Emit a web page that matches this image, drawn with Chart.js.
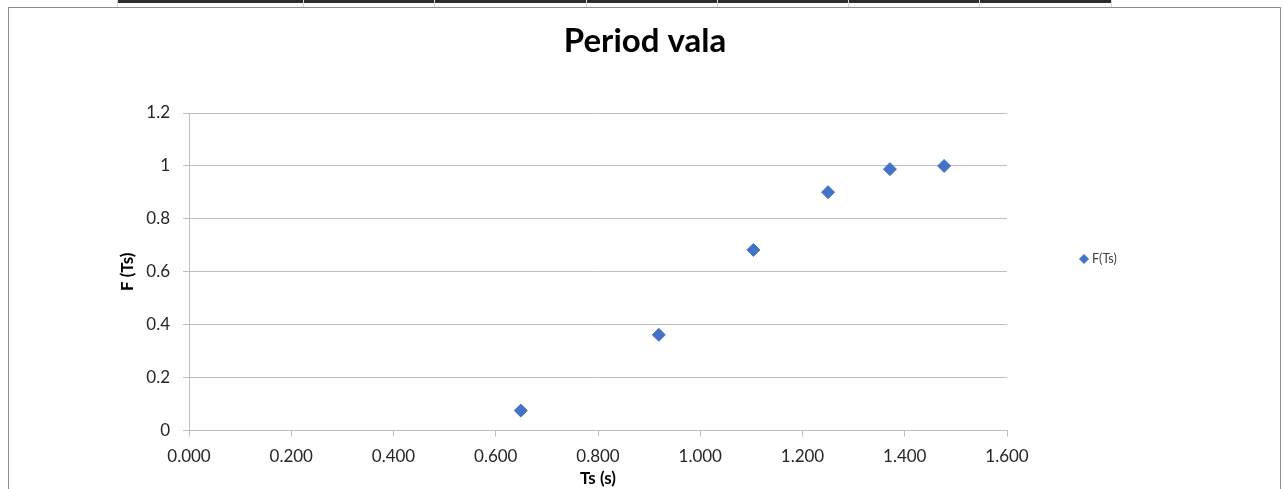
<!DOCTYPE html>
<html><head><meta charset="utf-8">
<script src="https://cdn.jsdelivr.net/npm/chart.js@4.4.1/dist/chart.umd.min.js"></script>
<style>
html,body{margin:0;padding:0;background:#fff;overflow:hidden;}
#wrap{position:relative;width:1284px;height:489px;}
#frame{position:absolute;left:8px;top:7px;width:1273px;height:520px;border:1px solid #8d8d8d;box-sizing:border-box;}
#topbar{position:absolute;left:117px;top:0;width:995px;height:3px;background:#2b2d33;}
.sep{position:absolute;top:0;width:1px;height:7px;background:#d9d9d9;}
canvas{position:absolute;left:0;top:0;}
</style></head><body>
<div id="wrap">
<div id="frame"></div>
<div id="topbar"></div>
<canvas id="c" width="1284" height="489"></canvas>
</div>
<script>
// ---- data ----
const chartTitle = 'Period vala';
const seriesName = 'F(Ts)';
const xAxisTitle = 'Ts (s)';
const yAxisTitle = 'F (Ts)';
const tsValues = [0.649, 0.919, 1.104, 1.250, 1.371, 1.477];
const fValues  = [0.076, 0.362, 0.683, 0.901, 0.988, 1.000];
const xTickValues = [0, 0.2, 0.4, 0.6, 0.8, 1.0, 1.2, 1.4, 1.6];
const xTickLabels = ['0.000','0.200','0.400','0.600','0.800','1.000','1.200','1.400','1.600'];
const yTickValues = [0, 0.2, 0.4, 0.6, 0.8, 1.0, 1.2];
const yTickLabels = ['0','0.2','0.4','0.6','0.8','1','1.2'];

// decorative separators of the cut-off element above
const wrap = document.getElementById('wrap');
[117, 303, 434, 586, 717, 848, 979, 1111].forEach(x => {
  const d = document.createElement('div'); d.className = 'sep'; d.style.left = x + 'px'; wrap.appendChild(d);
});

const FONT = 'Lato, "Open Sans", sans-serif';
const points = tsValues.map((x, i) => ({x: x, y: fValues[i]}));
const labelFor = (vals, labels) => v => {
  const i = vals.findIndex(t => Math.abs(t - v) < 1e-6);
  return i >= 0 ? labels[i] : '';
};

const legendPlugin = {
  id: 'sideLegend',
  afterDraw(chart) {
    const ctx = chart.ctx;
    const ds = chart.data.datasets[0];
    const x = 1084, y = 259;
    ctx.save();
    ctx.fillStyle = ds.backgroundColor;
    ctx.strokeStyle = ds.borderColor;
    ctx.lineWidth = 1;
    Chart.helpers.drawPoint(ctx, {pointStyle: 'rectRot', radius: 4.5, borderWidth: 1}, x, y, 0);
    ctx.fillStyle = '#404040';
    ctx.font = '12.5px ' + FONT;
    ctx.textBaseline = 'middle';
    ctx.textAlign = 'left';
    ctx.fillText(ds.label, x + 8, y);
    ctx.restore();
  }
};

new Chart(document.getElementById('c'), {
  type: 'scatter',
  data: {
    datasets: [{
      label: seriesName,
      data: points,
      pointStyle: 'rectRot',
      pointRadius: 6.5,
      pointHoverRadius: 6.5,
      backgroundColor: '#4472C4',
      borderColor: '#4472C4',
      borderWidth: 1
    }]
  },
  options: {
    responsive: false,
    animation: false,
    devicePixelRatio: 1,
    layout: {padding: {left: 6, right: 0, top: 0, bottom: 0}},
    plugins: {
      legend: {display: false},
      tooltip: {enabled: false},
      title: {
        display: true,
        text: chartTitle,
        color: '#000',
        font: {family: FONT, size: 33, weight: 'bold'},
        padding: {top: 22, bottom: 51.4}
      }
    },
    scales: {
      x: {
        type: 'linear',
        min: 0, max: 1.6,
        afterBuildTicks: s => { s.ticks = xTickValues.map(v => ({value: v})); },
        afterFit: s => { s.height = 58.3; },
        grid: {drawOnChartArea: false, drawTicks: true, tickLength: 6, color: '#bfbfbf'},
        border: {color: '#bfbfbf'},
        ticks: {
          callback: labelFor(xTickValues, xTickLabels),
          color: '#262626',
          font: {family: FONT, size: 17},
          padding: 10,
          maxRotation: 0
        },
        title: {display: true, text: xAxisTitle, color: '#000', font: {family: FONT, size: 17, weight: 'bold'}, padding: {top: 0, bottom: 0}}
      },
      y: {
        type: 'linear',
        min: 0, max: 1.2,
        afterBuildTicks: s => { s.ticks = yTickValues.map(v => ({value: v})); },
        afterFit: s => { s.width = 183; },
        grid: {color: '#bfbfbf', drawTicks: true, tickLength: 6},
        border: {color: '#bfbfbf'},
        ticks: {
          callback: labelFor(yTickValues, yTickLabels),
          color: '#262626',
          font: {family: FONT, size: 17},
          padding: 13
        },
        title: {display: true, text: yAxisTitle, color: '#000', font: {family: FONT, size: 17, weight: 'bold'}, padding: {top: 111, bottom: 0}}
      },
      legendSpace: {
        type: 'linear',
        position: 'right',
        display: true,
        afterFit: s => { s.width = 277; },
        grid: {display: false, drawOnChartArea: false},
        border: {display: false},
        ticks: {display: false}
      }
    }
  },
  plugins: [legendPlugin]
});
</script>
</body></html>
